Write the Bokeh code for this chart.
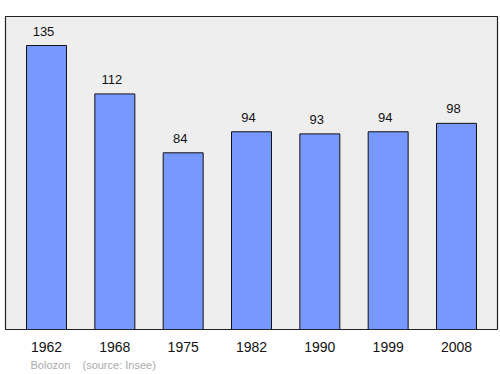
from bokeh.plotting import figure
from bokeh.models import ColumnDataSource, FixedTicker, Range1d, Title
from bokeh.core.properties import value
from bokeh.embed import file_html
from bokeh.resources import INLINE

years = ["1962", "1968", "1975", "1982", "1990", "1999", "2008"]
population = [135, 112, 84, 94, 93, 94, 98]
footer = "Bolozon\u00a0\u00a0\u00a0\u00a0(source: Insee)"

xs = list(range(len(years)))
src = ColumnDataSource(dict(x=xs, top=population, label=[str(v) for v in population]))

p = figure(width=500, height=374, output_backend="svg", toolbar_location=None,
           x_range=Range1d(-0.6, len(years) - 0.4), y_range=Range1d(0, 148.8),
           min_border_left=5, min_border_right=3, min_border_top=16, min_border_bottom=45)
p.background_fill_color = "#eeeeee"
p.border_fill_color = "white"
p.outline_line_color = "#222222"
p.outline_line_width = 1.2
p.grid.visible = False
p.yaxis.visible = False

p.vbar(x="x", top="top", width=0.585, bottom=0, source=src,
       fill_color="#7799ff", line_color="#111111", line_width=1)
p.text(x="x", y="top", text="label", source=src, text_align="center",
       text_baseline="bottom", x_offset=-3, y_offset=-10, text_font=value("Liberation Sans"),
       text_font_size="13px", text_color="#111111")

ax = p.xaxis[0]
ax.ticker = FixedTicker(ticks=xs)
ax.major_label_overrides = {i: y for i, y in enumerate(years)}
ax.axis_line_color = None
ax.major_tick_line_color = None
ax.minor_tick_line_color = None
ax.major_label_text_font = "Liberation Sans"
ax.major_label_text_font_size = "14px"
ax.major_label_text_color = "#111111"
ax.major_label_standoff = 6

t = Title(text=footer, align="left", offset=25, text_font="Liberation Sans",
          text_font_size="11px", text_color="#aaaaaa", text_font_style="normal", standoff=4)
p.add_layout(t, "below")

open("out.html", "w").write(file_html(p, INLINE))
